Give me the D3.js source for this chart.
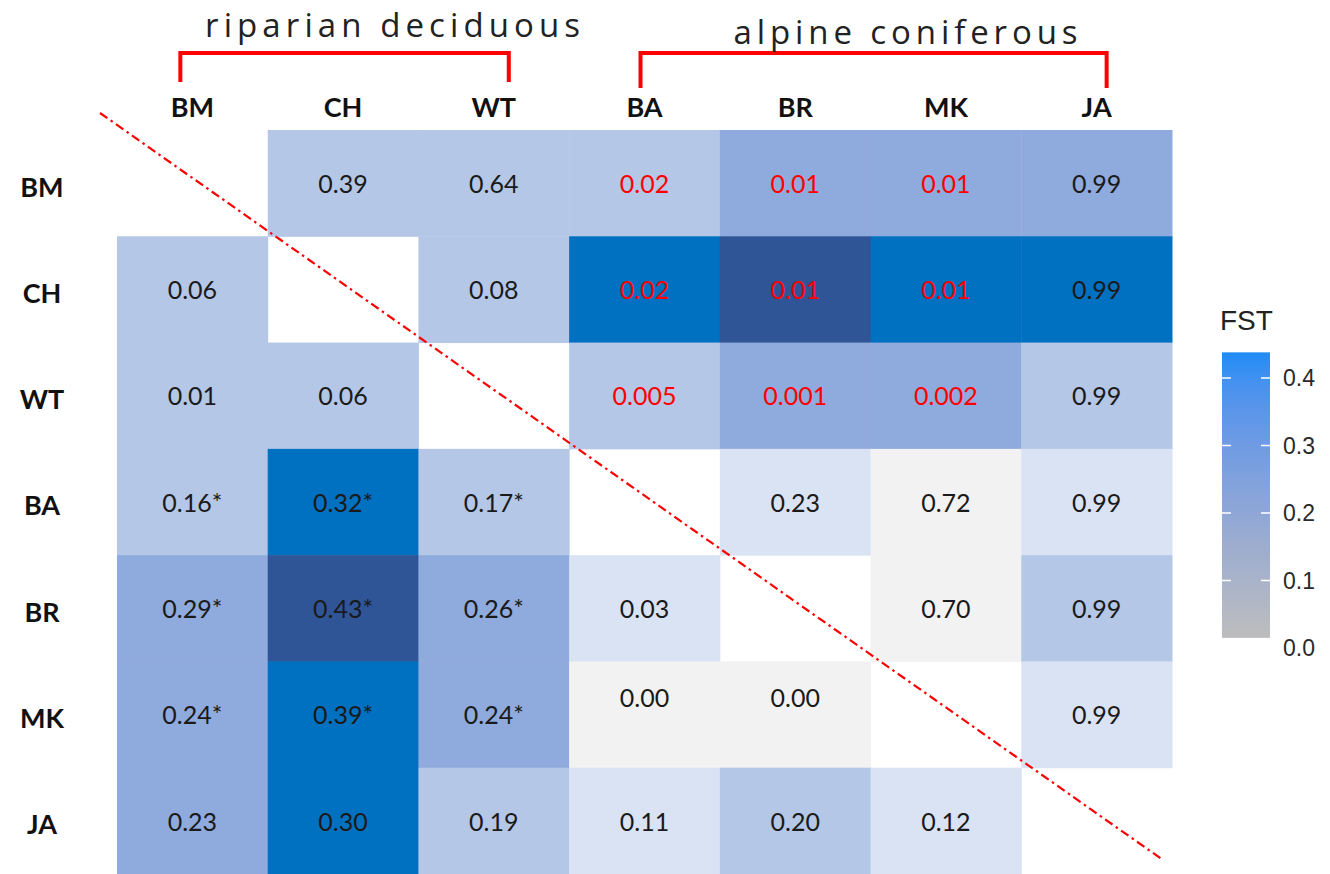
<!DOCTYPE html>
<html><head><meta charset="utf-8">
<script src="https://cdn.jsdelivr.net/npm/d3@7"></script>
<style>html,body{margin:0;padding:0;background:#fff;}svg{display:block;}</style>
</head><body>
<svg id="chart" width="1330" height="874"></svg>
<script>
// ---------- data ----------
const pops = ["BM","CH","WT","BA","BR","MK","JA"];
const groups = [
  {name:"riparian deciduous", from:"BM", to:"WT"},
  {name:"alpine coniferous",  from:"BA", to:"JA"}
];
// lower triangle: pairwise FST (row, col), "*" marks significance
const fstLabels = [
  ["",     "",      "",      "",     "",     "",     ""],
  ["0.06", "",      "",      "",     "",     "",     ""],
  ["0.01", "0.06",  "",      "",     "",     "",     ""],
  ["0.16*","0.32*", "0.17*", "",     "",     "",     ""],
  ["0.29*","0.43*", "0.26*", "0.03", "",     "",     ""],
  ["0.24*","0.39*", "0.24*", "0.00", "0.00", "",     ""],
  ["0.23", "0.30",  "0.19",  "0.11", "0.20", "0.12", ""]
];
// upper triangle: p-values
const pLabels = [
  ["", "0.39", "0.64", "0.02",  "0.01",  "0.01",  "0.99"],
  ["", "",     "0.08", "0.02",  "0.01",  "0.01",  "0.99"],
  ["", "",     "",     "0.005", "0.001", "0.002", "0.99"],
  ["", "",     "",     "",      "0.23",  "0.72",  "0.99"],
  ["", "",     "",     "",      "",      "0.70",  "0.99"],
  ["", "",     "",     "",      "",      "",      "0.99"],
  ["", "",     "",     "",      "",      "",      ""]
];
// shading class of each pair (lower triangle, mirrored to upper)
const shadeLevels = [
  [],
  [2],
  [2,2],
  [2,4,2],
  [3,5,3,1],
  [3,4,3,0,0],
  [3,4,2,1,2,1]
];
const legendTicks = [0.0, 0.1, 0.2, 0.3, 0.4];
const legendRange = [0.015, 0.438];

// ---------- layout ----------
const svg = d3.select("#chart");
const x = d3.scaleBand().domain(pops).range([117, 1172]);
const y = d3.scaleBand().domain(pops).range([130, 874]);
const shade = d3.scaleOrdinal().domain([0,1,2,3,4,5])
  .range(["#f2f2f2","#dae3f3","#b4c7e7","#8faadc","#0070c0","#2f5597"]);

const cells = [];
pops.forEach((r, i) => pops.forEach((c, j) => {
  if (i === j) return;
  const lvl = i > j ? shadeLevels[i][j] : shadeLevels[j][i];
  const label = i > j ? fstLabels[i][j] : pLabels[i][j];
  const upper = i < j;
  cells.push({r, c, lvl, label, red: upper && +label < 0.05,
              lift: (r === "MK" && (c === "BA" || c === "BR")) ? -17 : 0});
}));

const font = "Lato, 'Open Sans', sans-serif";

svg.append("g").selectAll("rect").data(cells).join("rect")
  .attr("x", d => x(d.c)).attr("y", d => y(d.r))
  .attr("width", x.bandwidth() + 0.5).attr("height", y.bandwidth() + 0.5)
  .attr("fill", d => shade(d.lvl));

svg.append("g").selectAll("text").data(cells).join("text")
  .attr("x", d => x(d.c) + x.bandwidth()/2)
  .attr("y", d => y(d.r) + y.bandwidth()/2 + 1 + d.lift)
  .attr("dy", "0.35em").attr("text-anchor", "middle")
  .attr("font-family", font).attr("font-size", 25)
  .attr("fill", d => d.red ? "#ff0000" : "#1a1a1a")
  .text(d => d.label);

// column labels
svg.append("g").selectAll("text").data(pops).join("text")
  .attr("x", d => x(d) + x.bandwidth()/2).attr("y", 108)
  .attr("dy", "0.35em").attr("text-anchor", "middle")
  .attr("font-family", font).attr("font-weight", "bold").attr("font-size", 27)
  .attr("fill", "#111").text(d => d);
// row labels
svg.append("g").selectAll("text").data(pops).join("text")
  .attr("x", 42).attr("y", d => y(d) + y.bandwidth()/2 + 4)
  .attr("dy", "0.35em").attr("text-anchor", "middle")
  .attr("font-family", font).attr("font-weight", "bold").attr("font-size", 27)
  .attr("fill", "#111").text(d => d);

// group brackets
const bracketSpec = [
  {top: 53, bottom: 82, textY: 25, len: 375, dl: -12, dr: 15, tx: 48},
  {top: 53, bottom: 88, textY: 32, len: 344, dl: -4,  dr: 10, tx: 32}
];
groups.forEach((g, k) => {
  const b = bracketSpec[k];
  const x0 = x(g.from) + x.bandwidth()/2 + b.dl;
  const x1 = x(g.to) + x.bandwidth()/2 + b.dr;
  svg.append("path")
    .attr("d", `M${x0},${b.bottom}V${b.top}H${x1}V${b.bottom}`)
    .attr("fill", "none").attr("stroke", "#ff0000").attr("stroke-width", 4);
  svg.append("text")
    .attr("x", (x0 + x1)/2 + b.tx).attr("y", b.textY)
    .attr("dy", "0.35em").attr("text-anchor", "middle")
    .attr("font-family", "'Open Sans', sans-serif").attr("font-size", 33).attr("fill", "#222")
    .attr("textLength", b.len).attr("lengthAdjust", "spacing")
    .text(g.name);
});

// diagonal dash-dot line
svg.append("line")
  .attr("x1", 100).attr("y1", 113).attr("x2", 1163).attr("y2", 860)
  .attr("stroke", "#ff0000").attr("stroke-width", 2.2)
  .attr("stroke-dasharray", "9,4,2.5,4");

// legend
const ly = d3.scaleLinear().domain([0, 0.4]).range([648, 378]);
const lx0 = 1222, lw = 48;
const grad = svg.append("defs").append("linearGradient")
  .attr("id", "fstGrad").attr("x1", 0).attr("y1", 1).attr("x2", 0).attr("y2", 0);
const gcol = d3.interpolateLab("#bdbdbd", "#1f8cf5");
d3.range(0, 1.0001, 0.1).forEach(t => grad.append("stop")
  .attr("offset", t).attr("stop-color", gcol(t)));
svg.append("rect").attr("x", lx0).attr("y", ly(legendRange[1]))
  .attr("width", lw).attr("height", ly(legendRange[0]) - ly(legendRange[1]))
  .attr("fill", "url(#fstGrad)");
const lt = svg.append("g").selectAll("g").data(legendTicks.filter(t => t >= legendRange[0])).join("g");
lt.append("line").attr("x1", lx0).attr("x2", lx0 + 9)
  .attr("y1", d => ly(d)).attr("y2", d => ly(d)).attr("stroke", "#fff").attr("stroke-width", 1.5);
lt.append("line").attr("x1", lx0 + lw - 9).attr("x2", lx0 + lw)
  .attr("y1", d => ly(d)).attr("y2", d => ly(d)).attr("stroke", "#fff").attr("stroke-width", 1.5);
svg.append("g").selectAll("text").data(legendTicks).join("text")
  .attr("x", 1283).attr("y", d => ly(d)).attr("dy", "0.35em")
  .attr("font-family", "'Liberation Sans', Arial, sans-serif").attr("font-size", 23)
  .attr("fill", "#2a2a2a").text(d => d.toFixed(1));
svg.append("text").attr("x", 1220).attr("y", 320).attr("dy", "0.35em")
  .attr("font-family", "'Liberation Sans', Arial, sans-serif").attr("font-size", 28)
  .attr("fill", "#222").text("FST");
</script>
</body></html>
